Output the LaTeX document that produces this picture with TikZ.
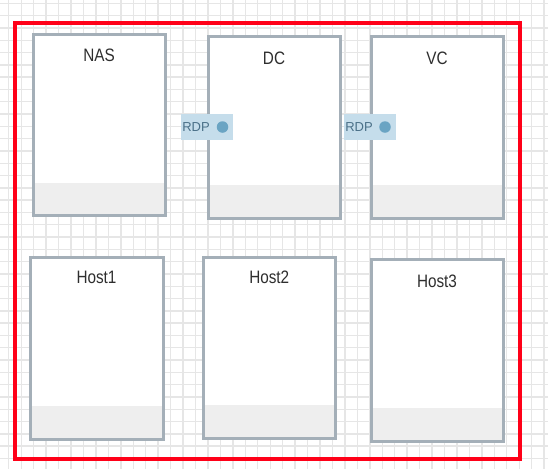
\documentclass[tikz,border=0pt]{standalone}
\usepackage{fontspec}
\setmainfont[FakeStretch=0.85]{Liberation Sans}
\newfontfamily\portfont{Liberation Sans}
\definecolor{gridline}{HTML}{E6E6E6}
\definecolor{frame}{HTML}{FF0018}
\definecolor{panelline}{HTML}{A4AFB8}
\definecolor{panelfoot}{HTML}{EEEEEE}
\definecolor{porttab}{HTML}{C5DDEB}
\definecolor{portdot}{HTML}{6AA4C3}
\definecolor{porttext}{HTML}{4A7088}
\definecolor{titletext}{HTML}{2E2E2E}

\begin{document}
\begin{tikzpicture}[x=1pt,y=-1pt,
	gridrule/.style={gridline,line width=1.4pt},
	panel/.style={panelline,line width=3pt},
	paneltitle/.style={font=\fontsize{18}{21}\selectfont,text=titletext,inner sep=0pt},
	portbox/.style={fill=porttab,minimum width=52pt,minimum height=26pt,inner sep=0pt},
	portlabel/.style={font=\portfont\fontsize{13}{15}\selectfont,text=porttext,inner sep=0pt},
	portpin/.style={circle,fill=portdot,minimum size=11.5pt,inner sep=0pt}]
\useasboundingbox (0,0) rectangle (548,469);
\fill[white] (0,0) rectangle (548,469);
	\foreach \k in {0,...,43} {
		\draw[gridrule] (8.75+12.45*\k,0) -- (8.75+12.45*\k,469);
		}
	\foreach \k in {0,...,37} {
		\draw[gridrule] (0,3.3+12.3*\k) -- (548,3.3+12.3*\k);
		}

\draw[frame,line width=3.4pt] (15,23) rectangle (520,459);

	\foreach \name/\txt/\l/\t/\r/\b/\f/\ty in {nas/NAS/33/34/165/215.5/183/55,dc/DC/208/36/340/218.3/185/58,vc/VC/371/36/503/218.3/185/58,host1/Host1/30/257/163/439/405.5/277.5,host2/Host2/203/257/335.5/438.5/405/277.5,host3/Host3/371/259.5/503/441/408/281} {
		\fill[white] (\l,\t) rectangle (\r,\b);
		\fill[panelfoot] (\l,\f) rectangle (\r,\b);
		\draw[panel] (\l,\t) rectangle (\r,\b);
		\node (\name) at ({(\l+\r)/2},\ty) [paneltitle] {\txt};
		}

\node (dcport) at (207,127) [portbox] {};
\node (dcrdp) at (196,127) [portlabel] {RDP};
\node (dcpin) at (222.5,127) [portpin] {};
\node (vcport) at (370,127) [portbox] {};
\node (vcrdp) at (359,127) [portlabel] {RDP};
\node (vcpin) at (385,127) [portpin] {};
\end{tikzpicture}
\end{document}
